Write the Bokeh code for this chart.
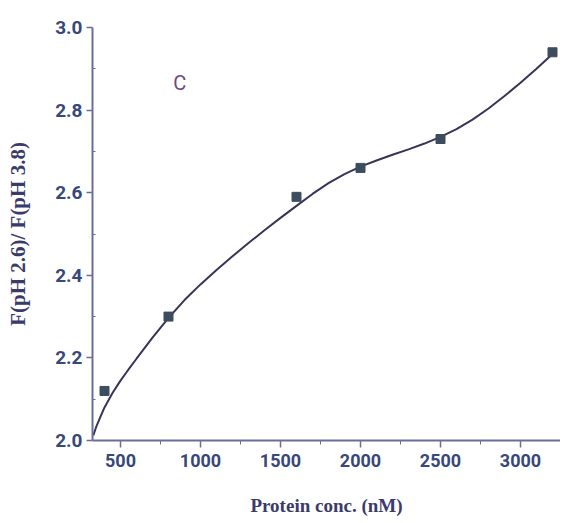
from bokeh.plotting import figure
from bokeh.models import Range1d, FixedTicker, Label
from bokeh.embed import file_html
from bokeh.resources import INLINE

# measured points
conc = [400, 800, 1600, 2000, 2500, 3200]
ratio = [2.12, 2.30, 2.59, 2.66, 2.73, 2.94]

# fitted curve
fit_x = [330, 350, 375, 400, 450, 500, 550, 600, 700, 800, 900, 1000, 1100,
         1200, 1300, 1400, 1500, 1600, 1700, 1800, 1900, 2000, 2100, 2200,
         2300, 2400, 2500, 2600, 2700, 2800, 2900, 3000, 3100, 3200]
fit_y = [2.012, 2.035, 2.058, 2.080, 2.115, 2.145, 2.172, 2.198, 2.249, 2.297,
         2.340, 2.378, 2.413, 2.446, 2.478, 2.509, 2.539, 2.568, 2.597, 2.623,
         2.645, 2.663, 2.678, 2.692, 2.705, 2.719, 2.735, 2.754, 2.777, 2.804,
         2.834, 2.866, 2.900, 2.936]

x_ticks = [500, 1000, 1500, 2000, 2500, 3000]
y_ticks = [2.0, 2.2, 2.4, 2.6, 2.8, 3.0]
x_title = "Protein conc. (nM)"
y_title = "F(pH 2.6)/ F(pH 3.8)"

TICK_FONT = "Roboto"
TICK_COLOR = "#37487a"
AXIS_COLOR = "#6d6d9d"
TITLE_COLOR = "#3b3b6b"

p = figure(width=560, height=520, output_backend="svg", toolbar_location=None,
           x_range=Range1d(325, 3250), y_range=Range1d(2.0, 3.0),
           min_border_left=92, min_border_right=0, min_border_top=27,
           min_border_bottom=80)
p.outline_line_color = None
p.grid.grid_line_color = None
p.background_fill_color = "white"

p.line(fit_x, fit_y, line_color="#3a3358", line_width=2)
p.scatter(conc, ratio, marker="square", size=9, fill_color="#3e4d5e",
          line_color="#3e4d5e")

for ax in (p.xaxis[0], p.yaxis[0]):
    ax.axis_line_color = AXIS_COLOR
    ax.axis_line_width = 2
    ax.major_tick_line_color = AXIS_COLOR
    ax.minor_tick_line_color = AXIS_COLOR
    ax.major_tick_line_width = 1.5
    ax.major_label_text_font = TICK_FONT
    ax.major_label_text_font_style = "bold"
    ax.major_label_text_color = TICK_COLOR
    ax.axis_label_text_font = "Liberation Serif"
    ax.axis_label_text_font_style = "bold"
    ax.axis_label_text_color = TITLE_COLOR

p.xaxis.ticker = FixedTicker(ticks=x_ticks, minor_ticks=[750, 1250, 1750, 2250, 2750, 3250])
p.yaxis.ticker = FixedTicker(ticks=y_ticks, minor_ticks=[2.1, 2.3, 2.5, 2.7, 2.9])
p.xaxis.major_label_overrides = {t: str(t) for t in x_ticks}
p.yaxis.major_label_overrides = {t: f"{t:.1f}" for t in y_ticks}

p.xaxis.major_tick_in = 0
p.xaxis.major_tick_out = 7
p.xaxis.minor_tick_in = 0
p.xaxis.minor_tick_out = 4
p.xaxis.major_label_standoff = 6
p.xaxis.major_label_text_font_size = "18px"
p.xaxis.axis_label = x_title
p.xaxis.axis_label_text_font_size = "19px"
p.xaxis.axis_label_standoff = 25

p.yaxis.major_tick_in = 0
p.yaxis.major_tick_out = 6
p.yaxis.minor_tick_in = 3
p.yaxis.minor_tick_out = 0
p.yaxis.major_label_standoff = 4
p.yaxis.major_label_text_font_size = "19px"
p.yaxis.axis_label = y_title
p.yaxis.axis_label_text_font_size = "21px"
p.yaxis.axis_label_standoff = 22

p.add_layout(Label(x=870, y=2.865, text="C", text_font=TICK_FONT,
                   text_font_size="20px", text_color="#6a4a8a",
                   text_align="center", text_baseline="middle"))

open("out.html", "w").write(file_html(p, INLINE))
